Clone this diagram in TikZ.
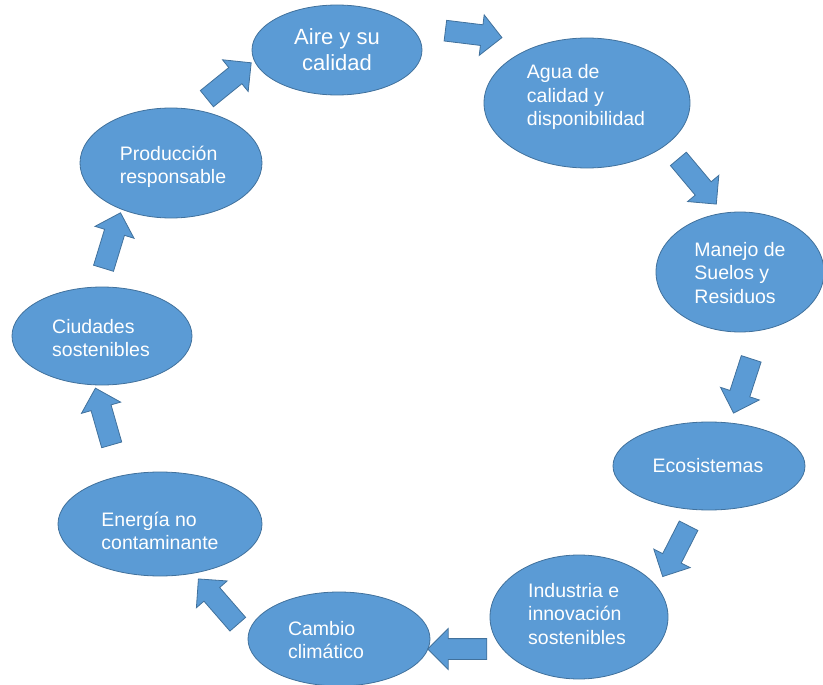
\documentclass[tikz,border=0pt]{standalone}
\usepackage{fontspec}
\setmainfont{Liberation Sans}
\usetikzlibrary{shapes.geometric, shapes.arrows}
\definecolor{cyclefill}{RGB}{91,155,213}
\definecolor{cycleedge}{RGB}{65,113,156}

\tikzset{
    topic/.style={ellipse, draw=cycleedge, fill=cyclefill, line width=0.8pt, inner sep=0pt},
    topictext/.style={text=white, align=left, inner sep=0pt, font=\fontsize{19.5}{23.5}\selectfont},
    flow/.style={single arrow, draw=cycleedge, fill=cyclefill, line width=0.8pt,
        inner xsep=0pt, inner ysep=10pt, single arrow head extend=10pt}
}

\begin{document}
\begin{tikzpicture}[x=1pt, y=-1pt]
    \useasboundingbox (0,0) rectangle (823,685);

    % Topics around the cycle
    \node[topic, minimum width=170pt, minimum height=90pt] (aire) at (337,50) {};
    \node[topictext, align=center, font=\fontsize{22}{26}\selectfont] (aire-t) at (337,50) {Aire y su\\calidad};

    \node[topic, minimum width=206pt, minimum height=130pt] (agua) at (587,103) {};
    \node[topictext] (agua-t) at (586,97) {Agua de\\calidad y\\disponibilidad};

    \node[topic, minimum width=168pt, minimum height=120pt] (suelos) at (740,272) {};
    \node[topictext] (suelos-t) at (740,273) {Manejo de\\Suelos y\\Residuos};

    \node[topic, minimum width=192pt, minimum height=88pt] (eco) at (709,466) {};
    \node[topictext] (eco-t) at (708,466) {Ecosistemas};

    \node[topic, minimum width=178pt, minimum height=124pt] (industria) at (579,617) {};
    \node[topictext] (industria-t) at (577,614) {Industria e\\innovación\\sostenibles};

    \node[topic, minimum width=182pt, minimum height=94pt] (cambio) at (339,639) {};
    \node[topictext] (cambio-t) at (326,640) {Cambio\\climático};

    \node[topic, minimum width=204pt, minimum height=104pt] (energia) at (160,524) {};
    \node[topictext] (energia-t) at (160,531) {Energía no\\contaminante};

    \node[topic, minimum width=180pt, minimum height=98pt] (ciudades) at (102,336) {};
    \node[topictext] (ciudades-t) at (101,338) {Ciudades\\sostenibles};

    \node[topic, minimum width=182pt, minimum height=110pt] (produccion) at (171,163) {};
    \node[topictext] (produccion-t) at (173,167) {Producción\\responsable};

    % Block arrows between topics
    \node[flow, minimum height=57pt, rotate=-7] (a1) at (468.5,33.5) {};
    \node[flow, minimum height=59pt, rotate=-50] (a2) at (694,177.5) {};
    \node[flow, minimum height=57pt, rotate=-108] (a3) at (744,381) {};
    \node[flow, minimum height=57pt, rotate=-117] (a4) at (678,546.5) {};
    \node[flow, minimum height=59pt, rotate=180] (a5) at (462.5,649) {};
    \node[flow, minimum height=60pt, rotate=131] (a6) at (221.5,605.5) {};
    \node[flow, minimum height=59pt, rotate=106] (a7) at (105,421.5) {};
    \node[flow, minimum height=58pt, rotate=73] (a8) at (110.5,245.5) {};
    \node[flow, minimum height=57pt, rotate=39] (a9) at (225,84) {};
\end{tikzpicture}
\end{document}
